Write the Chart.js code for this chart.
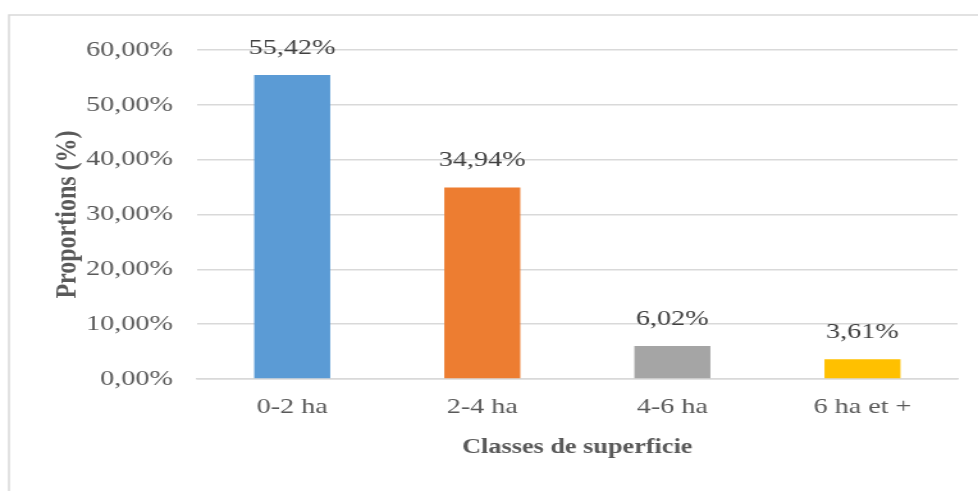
<!DOCTYPE html>
<html>
<head>
<meta charset="utf-8">
<script src="https://cdn.jsdelivr.net/npm/chart.js@4/dist/chart.umd.min.js"></script>
<style>
  html, body { margin: 0; padding: 0; background: #fff; }
</style>
</head>
<body>
<!-- le graphique d'origine est étiré en largeur : on dessine en 764 px et on affiche en 978 px -->
<canvas id="graph" width="764" height="491" style="display:block;width:978px;height:491px"></canvas>
<script>
// donnees
const categories = ['0-2 ha', '2-4 ha', '4-6 ha', '6 ha et +'];
const proportions = [55.42, 34.94, 6.02, 3.61];
const barColors = ['#5B9BD5', '#ED7D31', '#A5A5A5', '#FFC000'];
const yTicks = [0, 10, 20, 30, 40, 50, 60];

const fmt = v => v.toFixed(2).replace('.', ',') + '%';
const serif = "'Liberation Serif', 'Times New Roman', serif";

// cadre gris autour du graphique
const cadre = {
  id: 'cadre',
  beforeDraw(chart) {
    const ctx = chart.ctx;
    ctx.save();
    ctx.strokeStyle = '#d9d9d9';
    ctx.lineWidth = 1.5;
    ctx.beginPath();
    ctx.moveTo(7, chart.height);
    ctx.lineTo(7, 15);
    ctx.lineTo(chart.width, 15);
    ctx.stroke();
    ctx.restore();
  }
};

// etiquettes de valeur au dessus des barres
const etiquettes = {
  id: 'etiquettes',
  afterDatasetsDraw(chart) {
    const ctx = chart.ctx;
    const meta = chart.getDatasetMeta(0);
    ctx.save();
    ctx.font = '22px ' + serif;
    ctx.fillStyle = '#404040';
    ctx.textAlign = 'center';
    ctx.textBaseline = 'middle';
    meta.data.forEach((bar, i) => {
      ctx.fillText(fmt(proportions[i]), bar.x, bar.y - 27);
    });
    ctx.restore();
  }
};

new Chart(document.getElementById('graph'), {
  type: 'bar',
  data: {
    labels: categories,
    datasets: [{
      data: proportions,
      backgroundColor: barColors,
      borderWidth: 0,
      categoryPercentage: 1,
      barPercentage: 0.4
    }]
  },
  options: {
    responsive: false,
    devicePixelRatio: 1,
    animation: false,
    layout: { padding: { top: 50, right: 16, bottom: 0, left: 0 } },
    plugins: {
      legend: { display: false },
      tooltip: { enabled: false }
    },
    scales: {
      x: {
        grid: { display: false, drawTicks: false },
        border: { color: '#d9d9d9', width: 1.5 },
        ticks: { color: '#595959', font: { family: serif, size: 22 }, padding: 15 },
        title: {
          display: true,
          text: 'Classes de superficie',
          color: '#595959',
          font: { family: serif, size: 20.5, weight: 'bold' },
          padding: { top: 0, bottom: 31 }
        },
        afterFit(scale) { scale.height = 112; }
      },
      y: {
        min: 0,
        max: 60,
        afterBuildTicks(scale) { scale.ticks = yTicks.map(v => ({ value: v })); },
        grid: { color: '#d9d9d9', lineWidth: 1.5, drawTicks: false },
        border: { display: false },
        ticks: {
          color: '#595959',
          font: { family: serif, size: 22 },
          padding: 19,
          callback: v => fmt(v)
        },
        title: {
          display: true,
          text: 'Proportions (%)',
          color: '#595959',
          font: { family: serif, size: 24, weight: 'bold' },
          padding: { top: 38, bottom: 0 }
        },
        afterFit(scale) { scale.width = 154; }
      }
    }
  },
  plugins: [cadre, etiquettes]
});
</script>
</body>
</html>
